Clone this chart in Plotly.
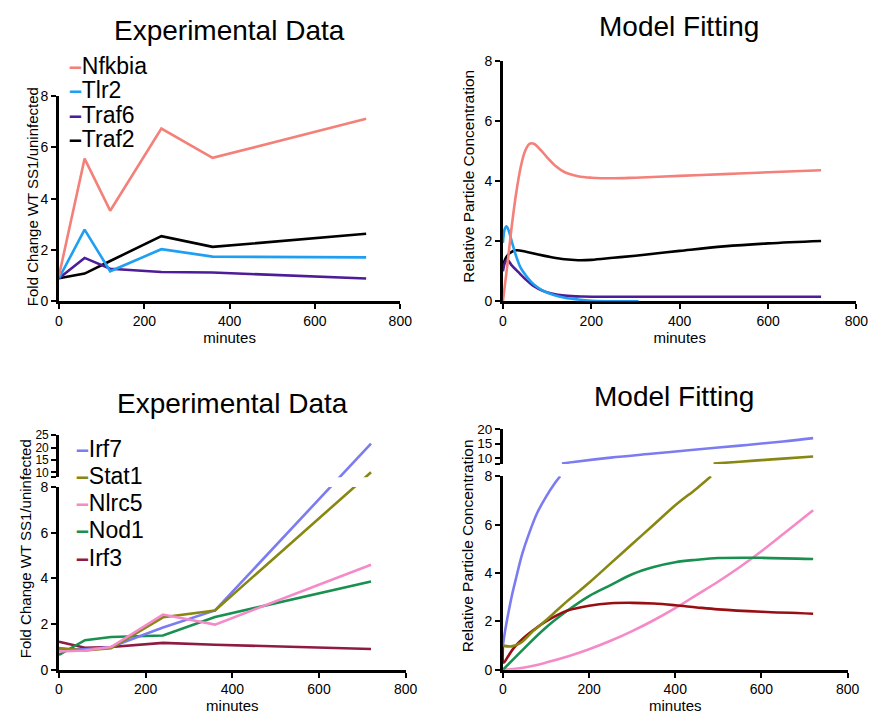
import plotly.graph_objects as go

# ---------------- data ----------------
# Top-left: experimental data (fold change)
exp_t = [0, 60, 120, 240, 360, 720]
nfkbia_exp = [1.0, 5.56, 3.53, 6.73, 5.59, 7.11]
tlr2_exp = [0.9, 2.79, 1.17, 2.03, 1.74, 1.71]
traf6_exp = [0.9, 1.69, 1.27, 1.14, 1.12, 0.89]
traf2_exp = [0.9, 1.08, 1.57, 2.54, 2.12, 2.63]

# Top-right: model fitting
nfkbia_m_t = [0, 10, 20, 30, 40, 50, 60, 70, 85, 100, 120, 140, 170, 200, 250, 300, 400, 500, 600, 720]
nfkbia_m_v = [0, 1.2, 2.5, 3.6, 4.45, 5.0, 5.25, 5.25, 5.05, 4.8, 4.5, 4.3, 4.17, 4.12, 4.1, 4.12, 4.18, 4.24, 4.3, 4.37]
tlr2_m_t = [0, 4, 8, 12, 20, 30, 40, 50, 65, 80, 95, 115, 140, 170, 200, 250, 307]
tlr2_m_v = [1.95, 2.4, 2.5, 2.4, 2.0, 1.5, 1.12, 0.9, 0.63, 0.45, 0.32, 0.21, 0.12, 0.06, 0.02, 0.0, 0.0]
traf6_m_t = [0, 5, 10, 20, 35, 50, 70, 90, 110, 140, 180, 250, 400, 720]
traf6_m_v = [1.0, 1.3, 1.38, 1.2, 0.97, 0.75, 0.5, 0.35, 0.26, 0.19, 0.16, 0.15, 0.15, 0.15]
traf2_m_t = [0, 5, 15, 30, 50, 80, 110, 140, 170, 200, 250, 300, 400, 500, 600, 720]
traf2_m_v = [1.15, 1.4, 1.6, 1.7, 1.66, 1.56, 1.47, 1.4, 1.37, 1.38, 1.45, 1.52, 1.68, 1.83, 1.93, 2.01]

# Bottom-left: experimental data (fold change)
irf7_exp = [0.9, 0.9, 1.0, 1.85, 2.6, 21.6]
stat1_exp = [0.95, 0.85, 0.95, 2.3, 2.6, 10.0]
nlrc5_exp = [0.8, 0.85, 1.0, 2.42, 1.98, 4.6]
nod1_exp = [0.65, 1.3, 1.44, 1.5, 2.31, 3.87]
irf3_exp = [1.23, 0.97, 1.0, 1.18, 1.1, 0.91]

# Bottom-right: model fitting (broken axis: lower part / upper part)
irf7_lo_t = [0, 5, 10, 20, 30, 45, 60, 80, 100, 120, 133]
irf7_lo_v = [1.0, 1.6, 2.1, 3.0, 3.75, 4.8, 5.6, 6.5, 7.15, 7.7, 8.0]
irf7_hi_t = [137, 164, 250, 350, 437, 550, 650, 720]
irf7_hi_v = [8.17, 8.73, 10.2, 11.6, 12.8, 14.3, 15.7, 16.85]
stat1_lo_t = [0, 20, 40, 70, 100, 125, 150, 200, 250, 300, 350, 400, 450, 483]
stat1_lo_v = [1.0, 0.97, 1.1, 1.6, 2.05, 2.45, 2.85, 3.6, 4.4, 5.2, 6.0, 6.8, 7.5, 8.0]
stat1_hi_t = [489, 550, 600, 650, 720]
stat1_hi_v = [8.17, 8.81, 9.34, 9.86, 10.6]
nlrc5_m_t = [0, 50, 100, 150, 200, 250, 300, 350, 400, 450, 500, 550, 600, 650, 720]
nlrc5_m_v = [0, 0.1, 0.3, 0.55, 0.85, 1.2, 1.6, 2.05, 2.55, 3.1, 3.65, 4.25, 4.9, 5.6, 6.6]
nod1_m_t = [0, 50, 100, 150, 200, 250, 300, 350, 400, 450, 500, 600, 720]
nod1_m_v = [0, 0.9, 1.75, 2.45, 3.05, 3.5, 3.95, 4.25, 4.45, 4.55, 4.62, 4.63, 4.58]
irf3_m_t = [0, 2, 10, 25, 50, 75, 100, 125, 150, 200, 250, 300, 350, 400, 450, 500, 600, 720]
irf3_m_v = [1.0, 0.3, 0.5, 0.9, 1.35, 1.7, 2.0, 2.25, 2.45, 2.65, 2.75, 2.77, 2.74, 2.67, 2.58, 2.5, 2.4, 2.32]

names_top = ["Nfkbia", "Tlr2", "Traf6", "Traf2"]
names_bot = ["Irf7", "Stat1", "Nlrc5", "Nod1", "Irf3"]

x_ticks = [0, 200, 400, 600, 800]
y_ticks_low = [0, 2, 4, 6, 8]
y_ticks_up_left = [8, 10, 15, 20, 25]
y_ticks_up_right = [8, 10, 15, 20]

# ---------------- styles ----------------
W, H = 893, 715
FONT = "Liberation Sans, Arial, Helvetica, sans-serif"
C_NFK = "#F4807A"
C_TLR2 = "#1E9FF2"
C_TRAF6 = "#4D1C98"
C_TRAF2 = "#000000"
C_IRF7 = "#7C7CF2"
C_STAT1 = "#878712"
C_NLRC5 = "#F58AC8"
C_NOD1 = "#18904F"
C_IRF3 = "#8E1B43"
C_IRF3M = "#990E12"
LW = 2.6


def xf(px):
    return px / W


def yf(px):
    return 1 - px / H


# domains (paper fractions)
D_X1 = [xf(56), xf(403.5)]
D_Y1 = [yf(300), yf(90)]
D_X2 = [xf(508), xf(868)]
D_Y2 = [yf(300), yf(54.5)]
D_X3 = [xf(56), xf(409)]
D_Y3 = [yf(677), yf(490)]
D_Y5 = [yf(480), yf(437)]
D_X4 = [xf(508), xf(859)]
D_Y4 = [yf(677), yf(479)]
D_Y6 = [yf(466.5), yf(430.5)]

R_LOW = [0, 8]
R_UP_L = [8, 25]
R_UP_R = [8, 20]


def split_axes(values, lo_dom, hi_dom, lo_rng, hi_rng):
    """Map values onto a broken axis so that lines are straight on screen;
    return coordinates in lower-axis units and in upper-axis units."""
    lo, hi = [], []
    for v in values:
        if v <= lo_rng[1]:
            s = lo_dom[0] + (v - lo_rng[0]) / (lo_rng[1] - lo_rng[0]) * (lo_dom[1] - lo_dom[0])
        else:
            s = hi_dom[0] + (v - hi_rng[0]) / (hi_rng[1] - hi_rng[0]) * (hi_dom[1] - hi_dom[0])
        lo.append(lo_rng[0] + (s - lo_dom[0]) / (lo_dom[1] - lo_dom[0]) * (lo_rng[1] - lo_rng[0]))
        hi.append(hi_rng[0] + (s - hi_dom[0]) / (hi_dom[1] - hi_dom[0]) * (hi_rng[1] - hi_rng[0]))
    return lo, hi


fig = go.Figure()


def add(x, y, color, xa, ya, shape="linear", clip=True):
    fig.add_trace(go.Scatter(
        x=x, y=y, mode="lines", xaxis=xa, yaxis=ya, showlegend=False,
        line=dict(color=color, width=LW, shape=shape, smoothing=1.0 if shape == "spline" else None),
        cliponaxis=clip, hoverinfo="skip"))


# Top-left
add(exp_t, traf2_exp, C_TRAF2, "x", "y", clip=False)
add(exp_t, traf6_exp, C_TRAF6, "x", "y", clip=False)
add(exp_t, tlr2_exp, C_TLR2, "x", "y", clip=False)
add(exp_t, nfkbia_exp, C_NFK, "x", "y", clip=False)

# Top-right
add(traf2_m_t, traf2_m_v, C_TRAF2, "x2", "y2", "spline", clip=False)
add(traf6_m_t, traf6_m_v, C_TRAF6, "x2", "y2", "spline", clip=False)
add(tlr2_m_t, tlr2_m_v, C_TLR2, "x2", "y2", "spline", clip=False)
add(nfkbia_m_t, nfkbia_m_v, C_NFK, "x2", "y2", "spline", clip=False)

# Bottom-left (broken axis)
add(exp_t, irf3_exp, C_IRF3, "x3", "y3")
add(exp_t, nod1_exp, C_NOD1, "x3", "y3")
for vals, col in [(irf7_exp, C_IRF7), (stat1_exp, C_STAT1)]:
    lo, hi = split_axes(vals, D_Y3, D_Y5, R_LOW, R_UP_L)
    add(exp_t, lo, col, "x3", "y3")
    add(exp_t, hi, col, "x3", "y5")
add(exp_t, nlrc5_exp, C_NLRC5, "x3", "y3")

# Bottom-right (broken axis)
add(nlrc5_m_t, nlrc5_m_v, C_NLRC5, "x4", "y4", "spline")
add(nod1_m_t, nod1_m_v, C_NOD1, "x4", "y4", "spline")
add(irf3_m_t, irf3_m_v, C_IRF3M, "x4", "y4", "spline")
add(stat1_lo_t, stat1_lo_v, C_STAT1, "x4", "y4", "spline")
add(stat1_hi_t, stat1_hi_v, C_STAT1, "x4", "y6", "spline")
add(irf7_lo_t, irf7_lo_v, C_IRF7, "x4", "y4", "spline")
add(irf7_hi_t, irf7_hi_v, C_IRF7, "x4", "y6", "spline")


AX = dict(showline=True, linecolor="black", linewidth=2.6, ticks="outside", ticklen=5,
          tickwidth=2.4, tickcolor="black", showgrid=False, zeroline=False,
          tickfont=dict(size=14, color="black"), layer="below traces", fixedrange=True)


def xaxis(domain, anchor):
    d = dict(AX)
    d.update(domain=domain, anchor=anchor, range=[0, 800], tickvals=x_ticks,
             title=dict(text="minutes", font=dict(size=15, color="black"), standoff=1))
    return d


def yaxis(domain, anchor, rng, tv, tt=None, fs=14):
    d = dict(AX)
    d.update(domain=domain, anchor=anchor, range=rng, tickvals=tv, ticklabelstandoff=0,
             tickfont=dict(size=fs, color="black"))
    if tt is not None:
        d.update(ticktext=tt)
    return d


fig.update_layout(
    width=W, height=H, autosize=False,
    margin=dict(l=0, r=0, t=0, b=0),
    paper_bgcolor="white", plot_bgcolor="white",
    font=dict(family=FONT, color="black"),
    showlegend=False,
    xaxis=xaxis(D_X1, "y"),
    yaxis=yaxis(D_Y1, "x", R_LOW, y_ticks_low),
    xaxis2=xaxis(D_X2, "y2"),
    yaxis2=yaxis(D_Y2, "x2", R_LOW, y_ticks_low),
    xaxis3=xaxis(D_X3, "y3"),
    yaxis3=yaxis(D_Y3, "x3", R_LOW, y_ticks_low),
    yaxis5=yaxis(D_Y5, "x3", R_UP_L, y_ticks_up_left,
                 [""] + [str(v) for v in y_ticks_up_left[1:]], fs=12),
    xaxis4=xaxis(D_X4, "y4"),
    yaxis4=yaxis(D_Y4, "x4", R_LOW, y_ticks_low),
    yaxis6=yaxis(D_Y6, "x4", R_UP_R, y_ticks_up_right,
                 [""] + [str(v) for v in y_ticks_up_right[1:]], fs=13.5),
)

ann = []
# panel titles
for txt, x, y in [("Experimental Data", 230, 23), ("Model Fitting", 687, 19),
                  ("Experimental Data", 233, 405), ("Model Fitting", 682, 397)]:
    ann.append(dict(text=txt, x=xf(x), y=yf(y), xref="paper", yref="paper",
                    xanchor="center", yanchor="middle", showarrow=False,
                    font=dict(size=28, color="black")))
# y-axis titles
for txt, x, y in [("Fold Change WT SS1/uninfected", 29, 193), ("Relative Particle Concentration", 473, 172),
                  ("Fold Change WT SS1/uninfected", 22, 553), ("Relative Particle Concentration", 472, 550)]:
    ann.append(dict(text=txt, x=xf(x), y=yf(y), xref="paper", yref="paper", textangle=-90,
                    xanchor="center", yanchor="middle", showarrow=False,
                    font=dict(size=15.5 if txt.startswith("Relative") else 15, color="black")))
# legends
for names, cols, x0, y0, dy in [
        (names_top, [C_NFK, C_TLR2, C_TRAF6, C_TRAF2], 64, 59, 25),
        (names_bot, [C_IRF7, C_STAT1, C_NLRC5, C_NOD1, C_IRF3], 71, 451, 27.8)]:
    for i, (n, c) in enumerate(zip(names, cols)):
        ann.append(dict(text=f"<span style='color:{c}'><b>–</b></span>{n}",
                        x=xf(x0), y=yf(y0 + i * dy), xref="paper", yref="paper",
                        xanchor="left", yanchor="middle", showarrow=False,
                        font=dict(size=23, color="black")))
fig.update_layout(annotations=ann)

fig.write_html("out.html", config={"displayModeBar": False},
               post_script="document.body.style.margin='0';document.body.style.overflow='hidden';")
